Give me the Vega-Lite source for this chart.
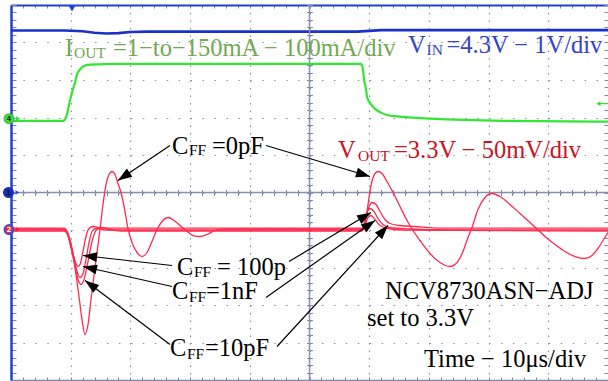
{
  "$schema": "https://vega.github.io/schema/vega-lite/v6.json",
  "width": 597,
  "height": 375,
  "autosize": "none",
  "padding": {"left": 11, "top": 5, "right": 0, "bottom": 1},
  "background": "white",
  "config": {"view": {"stroke": null}},
  "datasets": {
    "traces": [
      {"s": "VIN", "t": 0, "v": 4.32}, {"s": "VIN", "t": 9, "v": 4.32}, {"s": "VIN", "t": 12, "v": 4.3}, {"s": "VIN", "t": 14, "v": 4.26}, {"s": "VIN", "t": 16, "v": 4.24}, {"s": "VIN", "t": 18, "v": 4.25}, {"s": "VIN", "t": 20, "v": 4.28}, {"s": "VIN", "t": 23, "v": 4.29}, {"s": "VIN", "t": 58, "v": 4.29}, {"s": "VIN", "t": 60, "v": 4.31}, {"s": "VIN", "t": 62, "v": 4.33}, {"s": "VIN", "t": 100, "v": 4.33},
      {"s": "IOUT", "t": 0, "v": 1.91}, {"s": "IOUT", "t": 8.71, "v": 1.91}, {"s": "IOUT", "t": 9.21, "v": 2.0}, {"s": "IOUT", "t": 9.55, "v": 2.21}, {"s": "IOUT", "t": 9.88, "v": 2.45}, {"s": "IOUT", "t": 10.22, "v": 2.67}, {"s": "IOUT", "t": 10.72, "v": 2.93}, {"s": "IOUT", "t": 11.06, "v": 3.15}, {"s": "IOUT", "t": 11.56, "v": 3.28}, {"s": "IOUT", "t": 12.06, "v": 3.36}, {"s": "IOUT", "t": 13.23, "v": 3.41}, {"s": "IOUT", "t": 18.26, "v": 3.43}, {"s": "IOUT", "t": 58.63, "v": 3.43}, {"s": "IOUT", "t": 58.96, "v": 3.28}, {"s": "IOUT", "t": 59.13, "v": 3.01}, {"s": "IOUT", "t": 59.46, "v": 2.77}, {"s": "IOUT", "t": 59.63, "v": 2.56}, {"s": "IOUT", "t": 60.3, "v": 2.35}, {"s": "IOUT", "t": 61.14, "v": 2.21}, {"s": "IOUT", "t": 61.98, "v": 2.13}, {"s": "IOUT", "t": 63.48, "v": 2.05}, {"s": "IOUT", "t": 64.66, "v": 2.03}, {"s": "IOUT", "t": 70.35, "v": 1.97}, {"s": "IOUT", "t": 82.58, "v": 1.91}, {"s": "IOUT", "t": 100, "v": 1.89},
      {"s": "0pF", "t": 0, "v": -0.973}, {"s": "0pF", "t": 8.88, "v": -0.973}, {"s": "0pF", "t": 9.38, "v": -1.04}, {"s": "0pF", "t": 9.88, "v": -1.253}, {"s": "0pF", "t": 10.39, "v": -1.653}, {"s": "0pF", "t": 10.89, "v": -2.187}, {"s": "0pF", "t": 11.39, "v": -2.773}, {"s": "0pF", "t": 11.89, "v": -3.387}, {"s": "0pF", "t": 12.4, "v": -3.787}, {"s": "0pF", "t": 12.9, "v": -3.52}, {"s": "0pF", "t": 13.4, "v": -2.853}, {"s": "0pF", "t": 14.07, "v": -2.0}, {"s": "0pF", "t": 14.91, "v": -0.987}, {"s": "0pF", "t": 15.41, "v": -0.32}, {"s": "0pF", "t": 15.91, "v": 0.213}, {"s": "0pF", "t": 16.42, "v": 0.48}, {"s": "0pF", "t": 16.92, "v": 0.56}, {"s": "0pF", "t": 17.42, "v": 0.48}, {"s": "0pF", "t": 17.92, "v": 0.24}, {"s": "0pF", "t": 18.43, "v": 0.0}, {"s": "0pF", "t": 19.1, "v": -0.507}, {"s": "0pF", "t": 19.6, "v": -0.96}, {"s": "0pF", "t": 20.27, "v": -1.333}, {"s": "0pF", "t": 21.11, "v": -1.6}, {"s": "0pF", "t": 21.94, "v": -1.707}, {"s": "0pF", "t": 22.78, "v": -1.6}, {"s": "0pF", "t": 23.62, "v": -1.307}, {"s": "0pF", "t": 24.46, "v": -0.987}, {"s": "0pF", "t": 25.29, "v": -0.773}, {"s": "0pF", "t": 26.3, "v": -0.667}, {"s": "0pF", "t": 27.3, "v": -0.747}, {"s": "0pF", "t": 28.31, "v": -0.88}, {"s": "0pF", "t": 29.31, "v": -1.013}, {"s": "0pF", "t": 30.49, "v": -1.147}, {"s": "0pF", "t": 31.66, "v": -1.173}, {"s": "0pF", "t": 32.83, "v": -1.12}, {"s": "0pF", "t": 34.17, "v": -1.013}, {"s": "0pF", "t": 35.85, "v": -0.973}, {"s": "0pF", "t": 58.79, "v": -0.973}, {"s": "0pF", "t": 59.3, "v": -0.853}, {"s": "0pF", "t": 59.8, "v": -0.32}, {"s": "0pF", "t": 60.3, "v": 0.187}, {"s": "0pF", "t": 60.97, "v": 0.507}, {"s": "0pF", "t": 61.47, "v": 0.56}, {"s": "0pF", "t": 62.14, "v": 0.507}, {"s": "0pF", "t": 62.98, "v": 0.293}, {"s": "0pF", "t": 63.99, "v": 0.0}, {"s": "0pF", "t": 65.16, "v": -0.373}, {"s": "0pF", "t": 66.16, "v": -0.693}, {"s": "0pF", "t": 67.17, "v": -0.973}, {"s": "0pF", "t": 68.51, "v": -1.28}, {"s": "0pF", "t": 70.18, "v": -1.627}, {"s": "0pF", "t": 71.86, "v": -1.867}, {"s": "0pF", "t": 73.53, "v": -1.973}, {"s": "0pF", "t": 74.71, "v": -1.867}, {"s": "0pF", "t": 75.71, "v": -1.573}, {"s": "0pF", "t": 76.55, "v": -1.2}, {"s": "0pF", "t": 77.22, "v": -0.933}, {"s": "0pF", "t": 78.22, "v": -0.453}, {"s": "0pF", "t": 79.4, "v": -0.133}, {"s": "0pF", "t": 80.57, "v": -0.027}, {"s": "0pF", "t": 81.91, "v": -0.107}, {"s": "0pF", "t": 83.58, "v": -0.32}, {"s": "0pF", "t": 85.26, "v": -0.56}, {"s": "0pF", "t": 86.93, "v": -0.8}, {"s": "0pF", "t": 88.11, "v": -0.973}, {"s": "0pF", "t": 89.45, "v": -1.173}, {"s": "0pF", "t": 91.12, "v": -1.387}, {"s": "0pF", "t": 92.8, "v": -1.573}, {"s": "0pF", "t": 94.47, "v": -1.707}, {"s": "0pF", "t": 96.15, "v": -1.76}, {"s": "0pF", "t": 97.32, "v": -1.68}, {"s": "0pF", "t": 98.32, "v": -1.493}, {"s": "0pF", "t": 99.16, "v": -1.28}, {"s": "0pF", "t": 100, "v": -1.067},
      {"s": "100p", "t": 0, "v": -0.95}, {"s": "100p", "t": 8.88, "v": -0.95}, {"s": "100p", "t": 9.38, "v": -1.04}, {"s": "100p", "t": 9.88, "v": -1.307}, {"s": "100p", "t": 10.39, "v": -1.653}, {"s": "100p", "t": 10.89, "v": -1.893}, {"s": "100p", "t": 11.22, "v": -1.973}, {"s": "100p", "t": 11.56, "v": -1.92}, {"s": "100p", "t": 12.06, "v": -1.573}, {"s": "100p", "t": 12.56, "v": -1.173}, {"s": "100p", "t": 13.07, "v": -0.96}, {"s": "100p", "t": 13.74, "v": -0.907}, {"s": "100p", "t": 14.91, "v": -0.94}, {"s": "100p", "t": 16.58, "v": -0.95}, {"s": "100p", "t": 58.79, "v": -0.95}, {"s": "100p", "t": 59.3, "v": -0.773}, {"s": "100p", "t": 59.8, "v": -0.453}, {"s": "100p", "t": 60.47, "v": -0.267}, {"s": "100p", "t": 61.14, "v": -0.32}, {"s": "100p", "t": 61.81, "v": -0.507}, {"s": "100p", "t": 62.65, "v": -0.72}, {"s": "100p", "t": 63.48, "v": -0.827}, {"s": "100p", "t": 65.16, "v": -0.88}, {"s": "100p", "t": 67.67, "v": -0.907}, {"s": "100p", "t": 71.86, "v": -0.95}, {"s": "100p", "t": 100, "v": -0.95},
      {"s": "1nF", "t": 0, "v": -1.0}, {"s": "1nF", "t": 8.88, "v": -1.0}, {"s": "1nF", "t": 9.38, "v": -1.067}, {"s": "1nF", "t": 9.88, "v": -1.307}, {"s": "1nF", "t": 10.55, "v": -1.733}, {"s": "1nF", "t": 11.06, "v": -2.107}, {"s": "1nF", "t": 11.56, "v": -2.267}, {"s": "1nF", "t": 12.06, "v": -2.16}, {"s": "1nF", "t": 12.56, "v": -1.787}, {"s": "1nF", "t": 13.07, "v": -1.333}, {"s": "1nF", "t": 13.57, "v": -1.04}, {"s": "1nF", "t": 14.24, "v": -0.96}, {"s": "1nF", "t": 15.75, "v": -1.0}, {"s": "1nF", "t": 58.79, "v": -1.0}, {"s": "1nF", "t": 59.3, "v": -0.747}, {"s": "1nF", "t": 59.63, "v": -0.533}, {"s": "1nF", "t": 60.13, "v": -0.427}, {"s": "1nF", "t": 60.8, "v": -0.507}, {"s": "1nF", "t": 61.47, "v": -0.693}, {"s": "1nF", "t": 62.31, "v": -0.853}, {"s": "1nF", "t": 63.48, "v": -0.933}, {"s": "1nF", "t": 66.83, "v": -0.973}, {"s": "1nF", "t": 73.53, "v": -1.0}, {"s": "1nF", "t": 100, "v": -1.0},
      {"s": "10pF", "t": 0, "v": -1.027}, {"s": "10pF", "t": 8.88, "v": -1.027}, {"s": "10pF", "t": 9.38, "v": -1.093}, {"s": "10pF", "t": 9.88, "v": -1.36}, {"s": "10pF", "t": 10.55, "v": -1.84}, {"s": "10pF", "t": 11.22, "v": -2.32}, {"s": "10pF", "t": 11.73, "v": -2.453}, {"s": "10pF", "t": 12.23, "v": -2.32}, {"s": "10pF", "t": 12.9, "v": -1.84}, {"s": "10pF", "t": 13.57, "v": -1.307}, {"s": "10pF", "t": 14.24, "v": -1.013}, {"s": "10pF", "t": 14.91, "v": -0.933}, {"s": "10pF", "t": 16.58, "v": -0.987}, {"s": "10pF", "t": 19.1, "v": -1.027}, {"s": "10pF", "t": 58.79, "v": -1.027}, {"s": "10pF", "t": 59.3, "v": -0.853}, {"s": "10pF", "t": 59.8, "v": -0.667}, {"s": "10pF", "t": 60.3, "v": -0.613}, {"s": "10pF", "t": 60.97, "v": -0.72}, {"s": "10pF", "t": 61.81, "v": -0.88}, {"s": "10pF", "t": 63.15, "v": -0.96}, {"s": "10pF", "t": 65.16, "v": -1.0}, {"s": "10pF", "t": 100, "v": -1.027}
    ],
    "labels": [
      {"grp": "iout", "part": "main", "txt": "I", "t": 9.05, "v": 3.63},
      {"grp": "iout", "part": "sub", "txt": "OUT", "t": 10.55, "v": 3.6},
      {"grp": "iout", "part": "main", "txt": "=1−to−150mA − 100mA/div", "t": 17.08, "v": 3.63},
      {"grp": "vin", "part": "main", "txt": "V", "t": 66.5, "v": 3.71},
      {"grp": "vin", "part": "sub", "txt": "IN", "t": 69.6, "v": 3.68},
      {"grp": "vin", "part": "main", "txt": "=4.3V − 1V/div", "t": 72.95, "v": 3.71},
      {"grp": "vout", "part": "main", "txt": "V", "t": 54.77, "v": 0.907},
      {"grp": "vout", "part": "sub", "txt": "OUT", "t": 58.12, "v": 0.827},
      {"grp": "vout", "part": "main", "txt": "=3.3V − 50mV/div", "t": 64.15, "v": 0.907},
      {"grp": "note", "part": "main", "txt": "C", "t": 26.97, "v": 1.04},
      {"grp": "note", "part": "sub", "txt": "FF", "t": 29.8, "v": 0.987},
      {"grp": "note", "part": "main", "txt": "=0pF", "t": 33.67, "v": 1.04},
      {"grp": "note", "part": "main", "txt": "C", "t": 27.81, "v": -2.187},
      {"grp": "note", "part": "sub", "txt": "FF", "t": 30.64, "v": -2.24},
      {"grp": "note", "part": "main", "txt": "= 100p", "t": 34.51, "v": -2.187},
      {"grp": "note", "part": "main", "txt": "C", "t": 26.97, "v": -2.853},
      {"grp": "note", "part": "sub", "txt": "FF", "t": 29.8, "v": -2.907},
      {"grp": "note", "part": "main", "txt": "=1nF", "t": 32.66, "v": -2.853},
      {"grp": "note", "part": "main", "txt": "C", "t": 26.63, "v": -4.373},
      {"grp": "note", "part": "sub", "txt": "FF", "t": 29.48, "v": -4.427},
      {"grp": "note", "part": "main", "txt": "=10pF", "t": 32.5, "v": -4.373},
      {"grp": "note", "part": "main", "txt": "NCV8730ASN−ADJ", "t": 62.65, "v": -2.853},
      {"grp": "note", "part": "main", "txt": "set to 3.3V", "t": 59.63, "v": -3.573},
      {"grp": "note", "part": "main", "txt": "Time − 10μs/div", "t": 69.18, "v": -4.64}
    ],
    "arrows": [
      {"t1": 26.63, "v1": 1.253, "t2": 17.92, "v2": 0.32},
      {"t1": 42.71, "v1": 1.253, "t2": 60.13, "v2": 0.427},
      {"t1": 26.97, "v1": -1.947, "t2": 12.06, "v2": -1.68},
      {"t1": 26.97, "v1": -2.507, "t2": 12.06, "v2": -1.973},
      {"t1": 26.63, "v1": -4.053, "t2": 12.4, "v2": -2.347},
      {"t1": 46.57, "v1": -1.84, "t2": 60.3, "v2": -0.533},
      {"t1": 42.71, "v1": -2.8, "t2": 60.97, "v2": -0.747},
      {"t1": 44.56, "v1": -4.107, "t2": 63.15, "v2": -0.88}
    ],
    "markers": [
      {"ch": "4", "t": -0.335, "v": 1.97},
      {"ch": "1", "t": -0.42, "v": 0.0},
      {"ch": "2", "t": -0.335, "v": -0.987}
    ]
  },
  "resolve": {
    "axis": {"x": "independent", "y": "independent"},
    "scale": {"color": "independent", "size": "independent", "stroke": "independent"}
  },
  "layer": [
    {
      "data": {"name": "traces"},
      "transform": [{"filter": "datum.s === 'VIN'"}],
      "mark": {"type": "line", "color": "#1a30c8", "strokeWidth": 2.6},
      "encoding": {
        "x": {"field": "t", "type": "quantitative", "scale": {"domain": [0, 100], "nice": false, "zero": false},
          "axis": {"orient": "bottom", "labels": false, "title": null, "tickCount": 50, "tickSize": -3, "tickColor": "#8088a8", "tickWidth": 1, "domainColor": "#8088a8", "domainWidth": 1.5,
            "grid": true, "gridColor": "#8a90b0", "gridWidth": 1.2, "gridDash": [1.5, 6],
            "gridOpacity": {"condition": {"test": "datum.value % 10 === 0 && datum.value > 0 && datum.value < 100", "value": 1}, "value": 0}}},
        "y": {"field": "v", "type": "quantitative", "scale": {"domain": [-5, 5], "nice": false, "zero": false},
          "axis": {"orient": "left", "labels": false, "title": null, "tickCount": 50, "tickSize": -5, "tickColor": "#8088a8", "tickWidth": 1, "domainColor": "#2040d0", "domainWidth": 2.5,
            "grid": true, "gridColor": "#8a90b0", "gridWidth": 1.2, "gridDash": [1.5, 10.44],
            "gridOpacity": {"condition": {"test": "abs(datum.value - round(datum.value)) < 0.01 && abs(datum.value) < 4.9", "value": 1}, "value": 0}}}
      }
    },
    {
      "data": {"values": [{}]},
      "mark": {"type": "rule", "color": "#8890b0", "strokeWidth": 1.5},
      "encoding": {"y": {"datum": 0, "type": "quantitative", "axis": null}}
    },
    {
      "data": {"values": [{}]},
      "mark": {"type": "rule", "color": "#8890b0", "strokeWidth": 1.5},
      "encoding": {"x": {"datum": 50, "type": "quantitative", "axis": null}}
    },
    {
      "data": {"name": "traces"},
      "transform": [{"filter": "datum.s === 'IOUT'"}],
      "mark": {"type": "line", "color": "#33e633", "strokeWidth": 2.2, "interpolate": "monotone"},
      "encoding": {
        "x": {"field": "t", "type": "quantitative",
          "axis": {"orient": "top", "labels": false, "title": null, "tickCount": 50, "tickSize": -3, "tickColor": "#8088a8", "domainColor": "#2040d0", "domainWidth": 2, "grid": false}},
        "y": {"field": "v", "type": "quantitative",
          "axis": {"orient": "right", "labels": false, "title": null, "tickCount": 50, "tickSize": -4, "tickColor": "#8088a8", "domainColor": "#8088a8", "domainWidth": 1, "grid": false}}
      }
    },
    {
      "data": {"name": "traces"},
      "transform": [{"filter": "datum.s !== 'IOUT' && datum.s !== 'VIN'"}],
      "mark": {"type": "line", "color": "#ff2a4e", "strokeWidth": 1.3, "interpolate": "monotone"},
      "encoding": {
        "detail": {"field": "s"},
        "x": {"field": "t", "type": "quantitative",
          "axis": {"orient": "bottom", "offset": -190.5, "labels": false, "title": null, "tickCount": 50, "tickSize": 6, "tickColor": "#8088a8", "domain": false, "grid": false}},
        "y": {"field": "v", "type": "quantitative",
          "axis": {"orient": "left", "offset": -301.5, "labels": false, "title": null, "tickCount": 50, "tickSize": 6, "tickColor": "#8088a8", "domain": false, "grid": false}}
      }
    },
    {
      "data": {"name": "arrows"},
      "mark": {"type": "rule", "color": "black", "strokeWidth": 1.2},
      "encoding": {
        "x": {"field": "t1", "type": "quantitative", "axis": null},
        "y": {"field": "v1", "type": "quantitative", "axis": null},
        "x2": {"field": "t2"},
        "y2": {"field": "v2"}
      }
    },
    {
      "data": {"name": "arrows"},
      "transform": [
        {"calculate": "sqrt(pow((datum.t2 - datum.t1) * 5.97, 2) + pow((datum.v2 - datum.v1) * 37.5, 2))", "as": "len"},
        {"calculate": "datum.t2 - 7 * (datum.t2 - datum.t1) / datum.len", "as": "tc"},
        {"calculate": "datum.v2 - 7 * (datum.v2 - datum.v1) / datum.len", "as": "vc"},
        {"calculate": "atan2((datum.t2 - datum.t1) * 5.97, (datum.v2 - datum.v1) * 37.5) * 180 / PI", "as": "ang"}
      ],
      "mark": {"type": "point", "shape": "M0,-1L0.7,1L-0.7,1Z", "filled": true, "color": "black", "opacity": 1, "size": 196},
      "encoding": {
        "x": {"field": "tc", "type": "quantitative", "axis": null},
        "y": {"field": "vc", "type": "quantitative", "axis": null},
        "angle": {"field": "ang", "type": "quantitative", "scale": null}
      }
    },
    {
      "data": {"name": "labels"},
      "mark": {"type": "text", "font": "Liberation Serif", "align": "left", "baseline": "alphabetic"},
      "encoding": {
        "x": {"field": "t", "type": "quantitative", "axis": null},
        "y": {"field": "v", "type": "quantitative", "axis": null},
        "text": {"field": "txt"},
        "color": {"field": "grp", "type": "nominal", "legend": null, "scale": {"domain": ["iout", "vin", "vout", "note"], "range": ["#72a852", "#3344c8", "#c8141e", "#000000"]}},
        "size": {"field": "part", "type": "nominal", "legend": null, "scale": {"domain": ["main", "sub"], "range": [24.5, 15.5]}}
      }
    },
    {
      "data": {"name": "markers"},
      "mark": {"type": "point", "filled": true, "opacity": 1, "size": 90, "strokeWidth": 1.5},
      "encoding": {
        "x": {"field": "t", "type": "quantitative", "axis": null},
        "y": {"field": "v", "type": "quantitative", "axis": null},
        "fill": {"field": "ch", "type": "nominal", "legend": null, "scale": {"domain": ["4", "1", "2"], "range": ["#44dd44", "#1830b0", "#ee2244"]}},
        "stroke": {"field": "ch", "type": "nominal", "legend": null, "scale": {"domain": ["4", "1", "2"], "range": ["#44bb44", "#1830b0", "#2a50e0"]}}
      }
    },
    {
      "data": {"name": "markers"},
      "mark": {"type": "point", "shape": "triangle-right", "filled": true, "opacity": 1, "size": 22, "xOffset": 9},
      "encoding": {
        "x": {"field": "t", "type": "quantitative", "axis": null},
        "y": {"field": "v", "type": "quantitative", "axis": null},
        "color": {"field": "ch", "type": "nominal", "legend": null, "scale": {"domain": ["4", "1", "2"], "range": ["#33dd33", "#2a50e0", "#ee2244"]}}
      }
    },
    {
      "data": {"name": "markers"},
      "mark": {"type": "text", "font": "DejaVu Sans", "fontSize": 7, "fontWeight": "bold", "align": "center", "baseline": "middle"},
      "encoding": {
        "x": {"field": "t", "type": "quantitative", "axis": null},
        "y": {"field": "v", "type": "quantitative", "axis": null},
        "text": {"field": "ch"},
        "color": {"field": "ch", "type": "nominal", "legend": null, "scale": {"domain": ["4", "1", "2"], "range": ["#114411", "#0a1050", "#ffffff"]}}
      }
    },
    {
      "data": {"values": [{"t": 10.22, "v": 4.9}]},
      "mark": {"type": "point", "shape": "triangle-down", "filled": true, "color": "#2040d0", "opacity": 1, "size": 40},
      "encoding": {
        "x": {"field": "t", "type": "quantitative", "axis": null},
        "y": {"field": "v", "type": "quantitative", "axis": null}
      }
    },
    {
      "data": {"values": [{"t": 98.4, "v": 2.37}]},
      "mark": {"type": "point", "shape": "triangle-left", "filled": true, "color": "#33dd33", "opacity": 1, "size": 22},
      "encoding": {
        "x": {"field": "t", "type": "quantitative", "axis": null},
        "y": {"field": "v", "type": "quantitative", "axis": null}
      }
    },
    {
      "data": {"values": [{"t": 98.6, "t2": 100, "v": 2.37}]},
      "mark": {"type": "rule", "color": "#33dd33", "strokeWidth": 1.2},
      "encoding": {
        "x": {"field": "t", "type": "quantitative", "axis": null},
        "x2": {"field": "t2"},
        "y": {"field": "v", "type": "quantitative", "axis": null}
      }
    }
  ]
}
